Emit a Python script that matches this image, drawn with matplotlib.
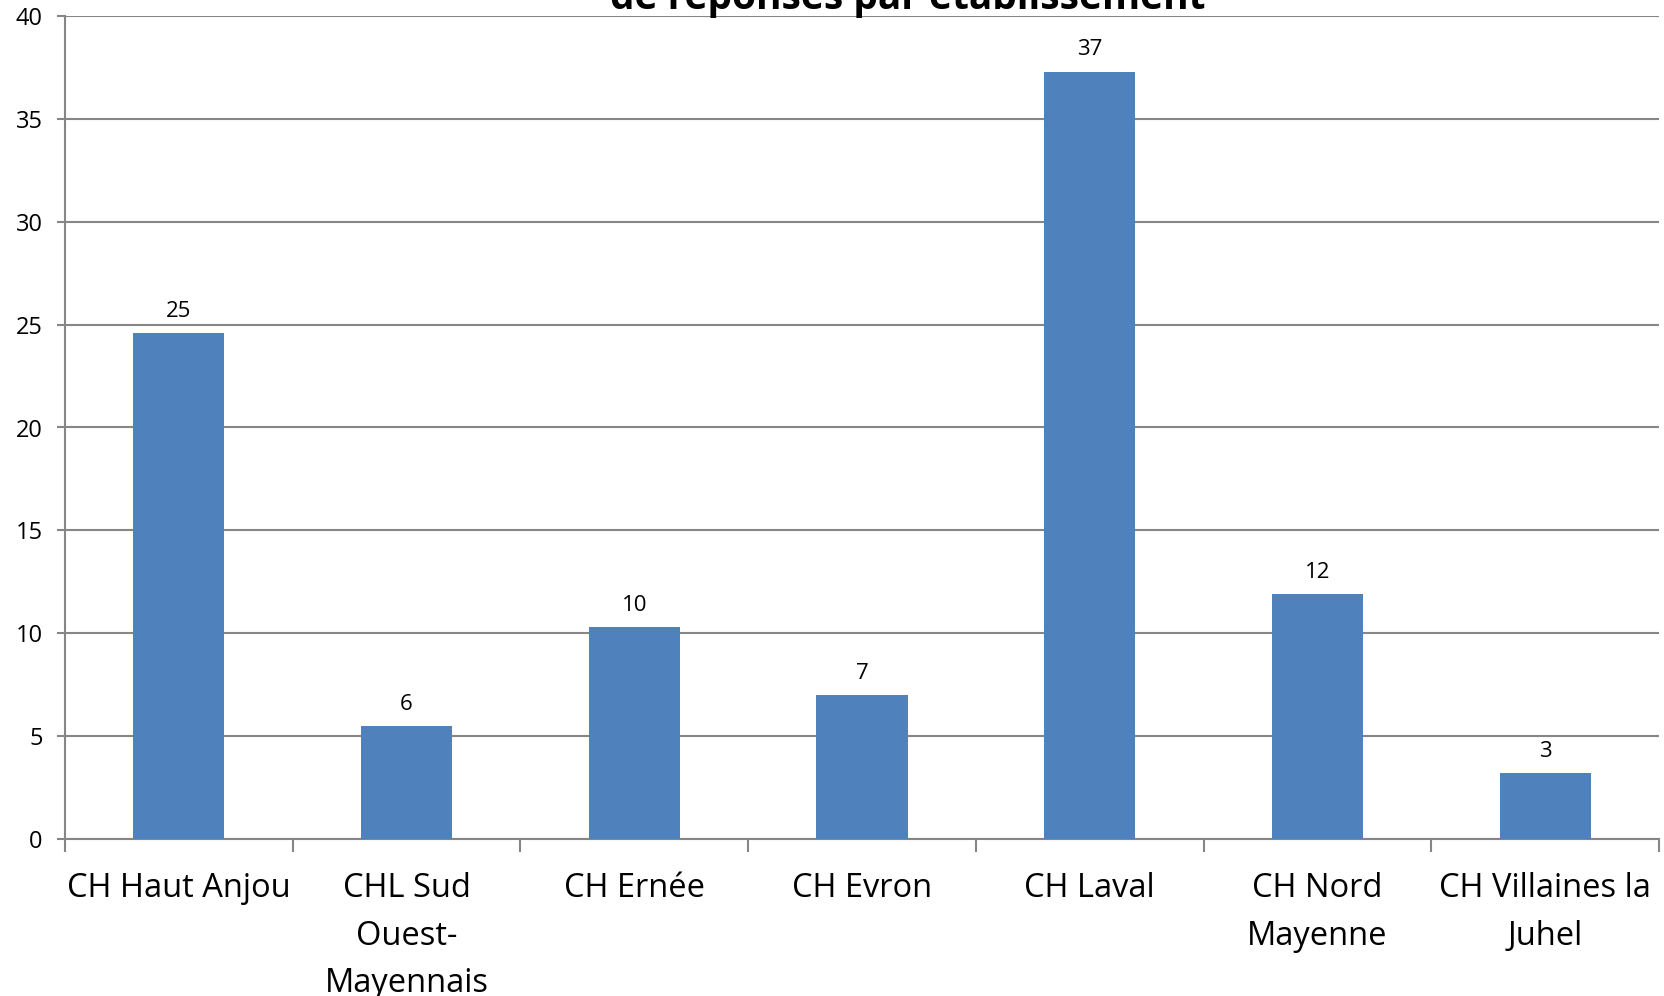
import matplotlib.pyplot as plt
import numpy as np

# données
etablissements = ["CH Haut Anjou", "CHL Sud\nOuest-\nMayennais", "CH Ernée", "CH Evron",
                  "CH Laval", "CH Nord\nMayenne", "CH Villaines la\nJuhel"]
valeurs = [24.6, 5.5, 10.3, 7.0, 37.3, 11.9, 3.2]
titre = "de réponses par établissement"

plt.rcParams['font.family'] = ['Open Sans', 'DejaVu Sans']

W, H = 1664, 996
fig = plt.figure(figsize=(W / 100, H / 100), dpi=100)
ax = fig.add_axes([65 / W, (H - 839) / H, (1659 - 65) / W, (839 - 16) / H])

x = np.arange(len(etablissements))
barres = ax.bar(x, valeurs, width=0.4, color='#4F81BD', zorder=3)
for xi, v in zip(x, valeurs):
    ax.annotate(f"{v:.0f}", (xi, v), xytext=(0, 8), textcoords='offset points',
                ha='center', va='bottom', fontsize=16)

ax.set_xlim(-0.5, len(etablissements) - 0.5)
ax.set_ylim(0, 40)
ax.set_yticks(np.arange(0, 41, 5))
ax.yaxis.grid(True, color='#868686', linewidth=1.5, zorder=0)
ax.tick_params(axis='y', labelsize=17, length=6, width=1.5, color='#868686', pad=10)

ax.set_xticks(x)
ax.set_xticklabels(etablissements, fontsize=23.5, linespacing=1.58)
ax.tick_params(axis='x', length=0, pad=24)
ax.set_xticks(np.arange(-0.5, len(etablissements)), minor=True)
ax.tick_params(axis='x', which='minor', length=9, width=1.5, color='#868686')

for s in ['top', 'right']:
    ax.spines[s].set_visible(False)
for s in ['left', 'bottom']:
    ax.spines[s].set_color('#868686')
    ax.spines[s].set_linewidth(1.5)

fig.text(908 / W, 1 - 9 / H, titre, ha='center', va='baseline',
         fontsize=28, fontweight='bold')

fig.savefig('out.png', dpi=100)
